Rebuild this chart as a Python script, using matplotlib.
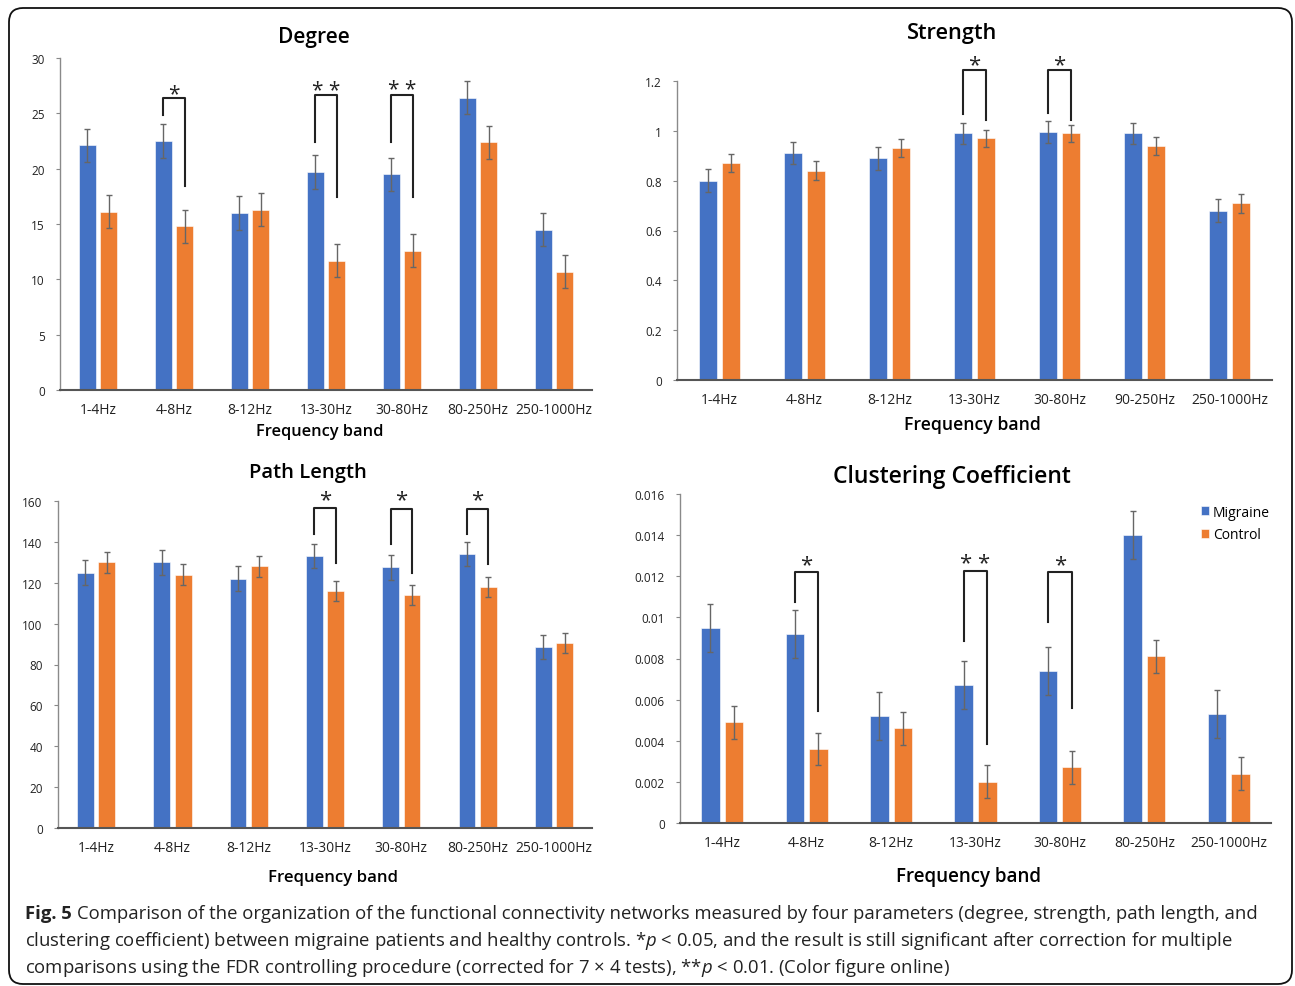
import numpy as np
import matplotlib
matplotlib.use('Agg')
import matplotlib.pyplot as plt
from matplotlib.patches import FancyBboxPatch
from matplotlib.transforms import IdentityTransform

plt.rcParams['font.family'] = ['Open Sans', 'DejaVu Sans']
plt.rcParams['mathtext.fontset'] = 'custom'
plt.rcParams['mathtext.rm'] = 'Open Sans'
plt.rcParams['mathtext.it'] = 'Open Sans:italic'
plt.rcParams['mathtext.bf'] = 'Open Sans:bold'

# ---------------- data ----------------
bands_a = ["1-4Hz", "4-8Hz", "8-12Hz", "13-30Hz", "30-80Hz", "80-250Hz", "250-1000Hz"]
bands_b = ["1-4Hz", "4-8Hz", "8-12Hz", "13-30Hz", "30-80Hz", "90-250Hz", "250-1000Hz"]
series_names = ["Migraine", "Control"]

degree_migraine = [22.1, 22.5, 16.0, 19.7, 19.5, 26.4, 14.5]
degree_migraine_err = [1.5, 1.5, 1.5, 1.5, 1.5, 1.5, 1.5]
degree_control = [16.1, 14.8, 16.3, 11.7, 12.6, 22.4, 10.7]
degree_control_err = [1.5, 1.5, 1.5, 1.5, 1.5, 1.5, 1.5]

strength_migraine = [0.80, 0.91, 0.89, 0.99, 0.995, 0.99, 0.68]
strength_migraine_err = [0.045, 0.045, 0.046, 0.043, 0.045, 0.043, 0.047]
strength_control = [0.87, 0.84, 0.93, 0.97, 0.99, 0.94, 0.71]
strength_control_err = [0.037, 0.037, 0.037, 0.035, 0.035, 0.036, 0.038]

path_migraine = [125, 130, 122, 133, 127.5, 134, 88.5]
path_migraine_err = [6, 6, 6, 6, 6, 6, 6]
path_control = [130, 124, 128, 116, 114, 118, 90.5]
path_control_err = [5, 5, 5, 5, 5, 5, 5]

clust_migraine = [0.0095, 0.0092, 0.0052, 0.0067, 0.0074, 0.0140, 0.0053]
clust_migraine_err = [0.00117, 0.00117, 0.00117, 0.00117, 0.00117, 0.00117, 0.00117]
clust_control = [0.0049, 0.0036, 0.0046, 0.0020, 0.0027, 0.0081, 0.0024]
clust_control_err = [0.0008, 0.0008, 0.0008, 0.0008, 0.0008, 0.0008, 0.0008]

# significance brackets: (band index, left leg bottom, right leg bottom, top, label)
degree_sig = [(1, 24.85, 18.45, 26.35, "*"), (3, 22.4, 17.4, 26.65, "* *"), (4, 22.45, 17.45, 26.7, "* *")]
strength_sig = [(3, 1.067, 1.043, 1.245, "*"), (4, 1.07, 1.045, 1.245, "*")]
path_sig = [(3, 144, 129.7, 156.4, "*"), (4, 139, 125, 156.3, "*"), (5, 144, 129, 156.3, "*")]
clust_sig = [(1, 0.01075, 0.00546, 0.01221, "*"), (3, 0.00883, 0.00384, 0.01226, "* *"), (4, 0.00977, 0.00558, 0.0122, "*")]

caption_label = "Fig. 5"
caption_lines = [
    r"Comparison of the organization of the functional connectivity networks measured by four parameters (degree, strength, path length, and",
    r"clustering coefficient) between migraine patients and healthy controls. *$p$ < 0.05, and the result is still significant after correction for multiple",
    r"comparisons using the FDR controlling procedure (corrected for 7 × 4 tests), **$p$ < 0.01. (Color figure online)",
]

BLUE = "#4472C4"
ORANGE = "#ED7D31"

W, H = 1295, 987
fig = plt.figure(figsize=(W / 100, H / 100), dpi=100)
fig.patch.set_facecolor("white")


def px_axes(x0, x1, ytop, ybot):
    return fig.add_axes([x0 / W, 1 - ybot / H, (x1 - x0) / W, (ybot - ytop) / H])


def ftext(x, y, s, **kw):
    return fig.text(x / W, 1 - y / H, s, **kw)


def panel(ax, labels, mig, mig_err, con, con_err, ymax, ystep, fmt, sig,
          width=0.22, star_off=0.0, star_size=16):
    x = np.arange(len(labels))
    off = 0.14
    ax.bar(x - off, mig, width, color=BLUE, edgecolor="white", linewidth=0.4,
           yerr=mig_err, error_kw=dict(ecolor="#666666", elinewidth=1.0, capsize=2, capthick=1.0),
           label=series_names[0], zorder=2)
    ax.bar(x + off, con, width, color=ORANGE, edgecolor="white", linewidth=0.4,
           yerr=con_err, error_kw=dict(ecolor="#666666", elinewidth=1.0, capsize=2, capthick=1.0),
           label=series_names[1], zorder=2)
    ax.set_xlim(-0.5, len(labels) - 0.5)
    ax.set_ylim(0, ymax)
    ticks = np.arange(0, ymax + ystep / 2, ystep)
    ax.set_yticks(ticks)
    ax.set_yticklabels([fmt(t) for t in ticks], fontsize=8.5, color="#222222")
    ax.set_xticks(x)
    ax.set_xticklabels(labels, fontsize=10, color="#222222")
    ax.tick_params(axis="x", length=0, pad=9)
    ax.tick_params(axis="y", length=3, width=0.8, color="#888888", pad=8)
    for s in ["top", "right"]:
        ax.spines[s].set_visible(False)
    ax.spines["left"].set_color("#8a8a8a")
    ax.spines["left"].set_linewidth(1.0)
    ax.spines["bottom"].set_color("#555555")
    ax.spines["bottom"].set_linewidth(1.5)
    for (i, yl, yr, yt, lab) in sig:
        ax.plot([i - off, i - off, i + off, i + off], [yl, yt, yt, yr],
                color="#222222", lw=1.5, clip_on=False, zorder=3)
        ax.text(i, yt + star_off, lab, ha="center", va="bottom", fontsize=star_size,
                color="#222222", clip_on=False)


def fmt_int(v):
    return "%d" % round(v)


def fmt_g(v):
    return ("%.3f" % v).rstrip("0").rstrip(".")


def fmt_s(v):
    if v == 0:
        return "0"
    if abs(v - 1) < 1e-9:
        return "1"
    return "%.1f" % v


# Degree
ax1 = px_axes(60, 592, 59, 391)
panel(ax1, bands_a, degree_migraine, degree_migraine_err, degree_control, degree_control_err,
      30, 5, fmt_int, degree_sig, star_off=-0.5, star_size=15)
ftext(314, 38, "Degree", fontsize=15, fontweight="semibold", ha="center", va="center")
ftext(320, 432, "Frequency band", fontsize=11.8, fontweight="semibold", ha="center", va="center")

# Strength
ax2 = px_axes(677, 1272, 82, 381)
panel(ax2, bands_b, strength_migraine, strength_migraine_err, strength_control, strength_control_err,
      1.2, 0.2, fmt_s, strength_sig, width=0.21, star_off=-0.02)
ftext(952, 34, "Strength", fontsize=15.7, fontweight="semibold", ha="center", va="center")
ftext(972, 425, "Frequency band", fontsize=12.7, fontweight="semibold", ha="center", va="center")

# Path Length
ax3 = px_axes(58, 592, 502, 829)
panel(ax3, bands_a, path_migraine, path_migraine_err, path_control, path_control_err,
      160, 20, fmt_int, path_sig, star_off=-1.0)
ftext(308, 473, "Path Length", fontsize=14.6, fontweight="semibold", ha="center", va="center")
ftext(333, 878, "Frequency band", fontsize=12.1, fontweight="semibold", ha="center", va="center")

# Clustering Coefficient
ax4 = px_axes(680, 1271, 495, 824)
panel(ax4, bands_a, clust_migraine, clust_migraine_err, clust_control, clust_control_err,
      0.016, 0.002, fmt_g, clust_sig, star_off=-0.00016)
ftext(952, 477, "Clustering Coefficient", fontsize=16.5, fontweight="semibold", ha="center", va="center")
ftext(968, 877, "Frequency band", fontsize=13.5, fontweight="semibold", ha="center", va="center")
ax4.legend(loc="upper left", bbox_to_anchor=(1195 / W, 1 - 500 / H), bbox_transform=fig.transFigure,
           frameon=False, fontsize=10, handlelength=0.6, handleheight=0.6, handletextpad=0.3,
           labelspacing=0.55, borderaxespad=0)

# caption
ys = [914, 941, 968]
lab = ftext(25, ys[0], caption_label, fontsize=13.3, fontweight="bold", color="#222222",
            ha="left", va="center")
fig.canvas.draw()
bb = lab.get_window_extent(renderer=fig.canvas.get_renderer())
x_after = bb.x1 + 5
ftext(x_after, ys[0], caption_lines[0], fontsize=13.3, color="#222222", ha="left", va="center")
for line, yy in zip(caption_lines[1:], ys[1:]):
    ftext(25, yy, line, fontsize=13.3, color="#222222", ha="left", va="center")

# rounded frame
frame = FancyBboxPatch((9, 2), 1283, 976, boxstyle="round,pad=0,rounding_size=14",
                       transform=IdentityTransform(), facecolor="none", edgecolor="#111111",
                       linewidth=1.3)
fig.patches.append(frame)

fig.savefig("out.png", dpi=100, facecolor="white")
